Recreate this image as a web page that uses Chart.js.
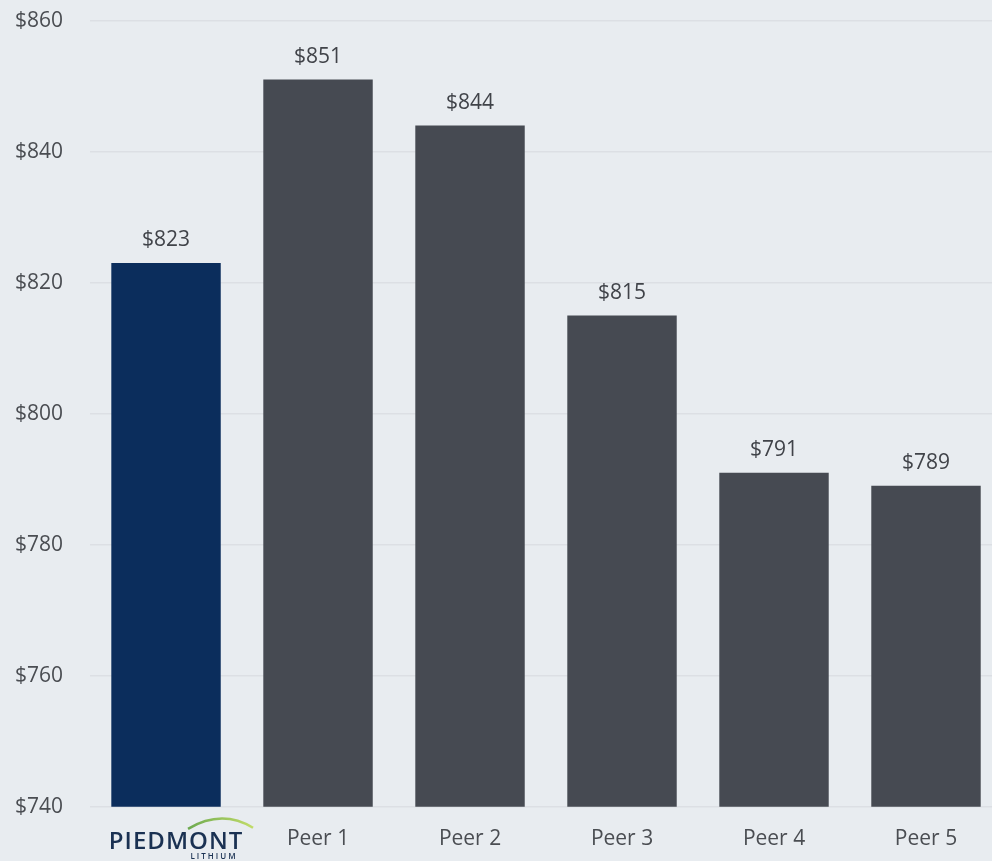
<!DOCTYPE html>
<html>
<head>
<meta charset="utf-8">
<script src="https://cdn.jsdelivr.net/npm/chart.js@4"></script>
<style>
  html, body { margin: 0; padding: 0; background: #e8ecf0; overflow: hidden; }
  #wrap { width: 1002px; height: 885px; margin-top: -19px; }
</style>
</head>
<body>
<div id="wrap"><canvas id="chartCusto"></canvas></div>
<script>
const categorias = ['Piedmont Lithium', 'Peer 1', 'Peer 2', 'Peer 3', 'Peer 4', 'Peer 5'];
const valores = [823, 851, 844, 815, 791, 789];
const coresBarras = ['#0b2d5c', '#464a52', '#464a52', '#464a52', '#464a52', '#464a52'];
const yTicks = [740, 760, 780, 800, 820, 840, 860];

// rótulos de valor acima das barras
const rotulosPlugin = {
    id: 'rotulos',
    afterDatasetsDraw(chart) {
        const ctx = chart.ctx;
        const meta = chart.getDatasetMeta(0);
        ctx.save();
        ctx.font = '21px "Open Sans"';
        ctx.fillStyle = '#404349';
        ctx.textAlign = 'center';
        ctx.textBaseline = 'bottom';
        meta.data.forEach((bar, i) => {
            ctx.fillText('$' + valores[i], bar.x, bar.y - 12);
        });
        ctx.restore();
    }
};

// logotipo no lugar do primeiro rótulo do eixo x
const logoPlugin = {
    id: 'logo',
    afterDraw(chart) {
        const ctx = chart.ctx;
        const x = chart.scales.x.getPixelForValue(0);
        const yBase = chart.chartArea.bottom;
        ctx.save();
        // arco verde
        const grad = ctx.createLinearGradient(x + 20, 0, x + 90, 0);
        grad.addColorStop(0, '#6aa84f');
        grad.addColorStop(1, '#c5de6a');
        ctx.strokeStyle = grad;
        ctx.lineWidth = 2.5;
        ctx.beginPath();
        ctx.moveTo(x + 22, yBase + 22);
        ctx.quadraticCurveTo(x + 56, yBase + 2, x + 87, yBase + 21);
        ctx.stroke();
        ctx.fillStyle = '#1a3152';
        ctx.textAlign = 'center';
        ctx.textBaseline = 'alphabetic';
        ctx.font = '600 24px "Open Sans"';
        ctx.letterSpacing = '1px';
        ctx.fillText('PIEDMONT', x + 10, yBase + 42);
        ctx.font = '600 8px "Open Sans"';
        ctx.letterSpacing = '2px';
        ctx.fillText('LITHIUM', x + 48, yBase + 52);
        ctx.restore();
    }
};

new Chart(document.getElementById('chartCusto'), {
    type: 'bar',
    data: {
        labels: categorias,
        datasets: [{
            data: valores,
            backgroundColor: coresBarras,
            borderWidth: 0,
            categoryPercentage: 1,
            barPercentage: 0.72
        }]
    },
    options: {
        responsive: true,
        maintainAspectRatio: false,
        animation: false,
        layout: { padding: { left: -12, top: 0, right: 0, bottom: -6 } },
        scales: {
            y: {
                min: 740,
                max: 860,
                afterBuildTicks: axis => { axis.ticks = yTicks.map(v => ({ value: v })); },
                ticks: {
                    color: '#4a4d52',
                    font: { family: 'Open Sans', size: 21 },
                    padding: 27,
                    callback: v => '$' + v
                },
                grid: { color: '#dcdfe4', lineWidth: 1.5, drawTicks: false },
                border: { display: false }
            },
            x: {
                ticks: {
                    color: '#4a4d52',
                    font: { family: 'Open Sans', size: 21 },
                    padding: 20,
                    callback: (v, i) => i === 0 ? '' : categorias[i]
                },
                grid: { display: false, drawTicks: false },
                border: { display: false }
            }
        },
        plugins: {
            legend: { display: false },
            tooltip: { enabled: false }
        }
    },
    plugins: [rotulosPlugin, logoPlugin]
});
</script>
</body>
</html>
